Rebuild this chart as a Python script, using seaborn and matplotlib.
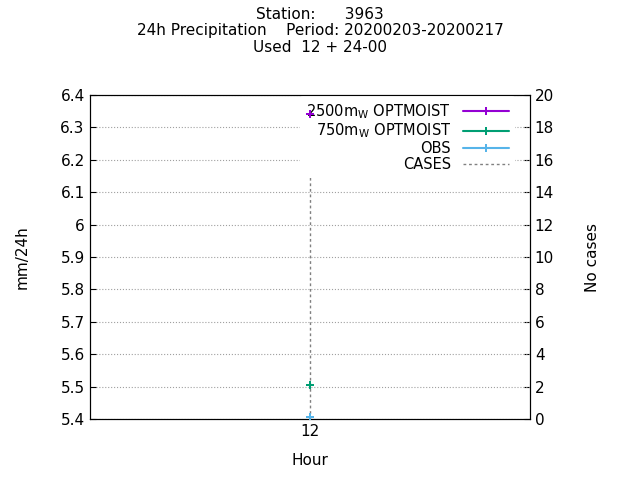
import matplotlib
matplotlib.use("Agg")
import matplotlib.pyplot as plt
import seaborn as sns

hours = [12]
optmoist_2500 = [6.34]
optmoist_750 = [5.505]
obs = [5.405]
cases = [15]

sns.set_style("white")
plt.rcParams['font.family'] = ['DejaVu Sans']
plt.rcParams['text.color'] = 'black'
plt.rcParams['axes.labelcolor'] = 'black'
plt.rcParams['xtick.color'] = 'black'
plt.rcParams['ytick.color'] = 'black'

fig = plt.figure(figsize=(6.4, 4.8), dpi=100)
ax = fig.add_axes([0.14, 0.127, 0.688, 0.675])
ax2 = ax.twinx()

ax2.vlines(hours, 0, cases, colors='#808080', linestyles=(0, (2, 2)), linewidth=1, label='CASES')
ax2.set_ylim(0, 20)
ax2.set_yticks(range(0, 21, 2))
ax2.set_ylabel('No cases', labelpad=22, fontsize=11)

sns.lineplot(x=hours, y=optmoist_2500, ax=ax, color='#9400d3', marker='P', markersize=5.5,
             markeredgewidth=0, label=r'2500m$_{\rm W}$ OPTMOIST', zorder=10)
sns.lineplot(x=hours, y=optmoist_750, ax=ax, color='#009e73', marker='P', markersize=5.5,
             markeredgewidth=0, label=r'750m$_{\rm W}$ OPTMOIST', zorder=10)
sns.lineplot(x=hours, y=obs, ax=ax, color='#56b4e9', marker='P', markersize=5.5,
             markeredgewidth=0, label='OBS', zorder=10)
ax.set_zorder(ax2.get_zorder() + 1)
ax.patch.set_visible(False)

ax.set_xlim(11, 13)
ax.set_xticks(hours)
ax.set_ylim(5.4, 6.4)
ax.set_yticks([5.4 + 0.1 * i for i in range(11)])
ax.set_yticklabels(['5.4', '5.5', '5.6', '5.7', '5.8', '5.9', '6', '6.1', '6.2', '6.3', '6.4'])
ax.yaxis.grid(True, color='#a0a0a0', linestyle=':', linewidth=0.8)
ax.set_xlabel('Hour', labelpad=10, fontsize=11)
ax.set_ylabel('mm/24h', labelpad=22, fontsize=11)
for a in (ax, ax2):
    a.tick_params(direction='in', length=4, labelsize=11)
    for s in a.spines.values():
        s.set_color('black')

h1, l1 = ax.get_legend_handles_labels()
h2, l2 = ax2.get_legend_handles_labels()
leg = ax.legend(h1 + h2, l1 + l2, loc='upper right', markerfirst=False, frameon=True,
                fontsize=10.5, handlelength=3.2, borderaxespad=0.1, labelspacing=0.05,
                bbox_to_anchor=(0.97, 1.0))
leg.get_frame().set_facecolor('white')
leg.get_frame().set_edgecolor('none')
leg.get_frame().set_alpha(1)
leg.set_zorder(2)
for t in leg.get_texts():
    t.set_ha('right')

fig.text(0.5, 0.985, 'Station:      3963\n24h Precipitation    Period: 20200203-20200217\nUsed  12 + 24-00',
         ha='center', va='top', fontsize=11, linespacing=1.1)

fig.savefig('out.png', dpi=100)
